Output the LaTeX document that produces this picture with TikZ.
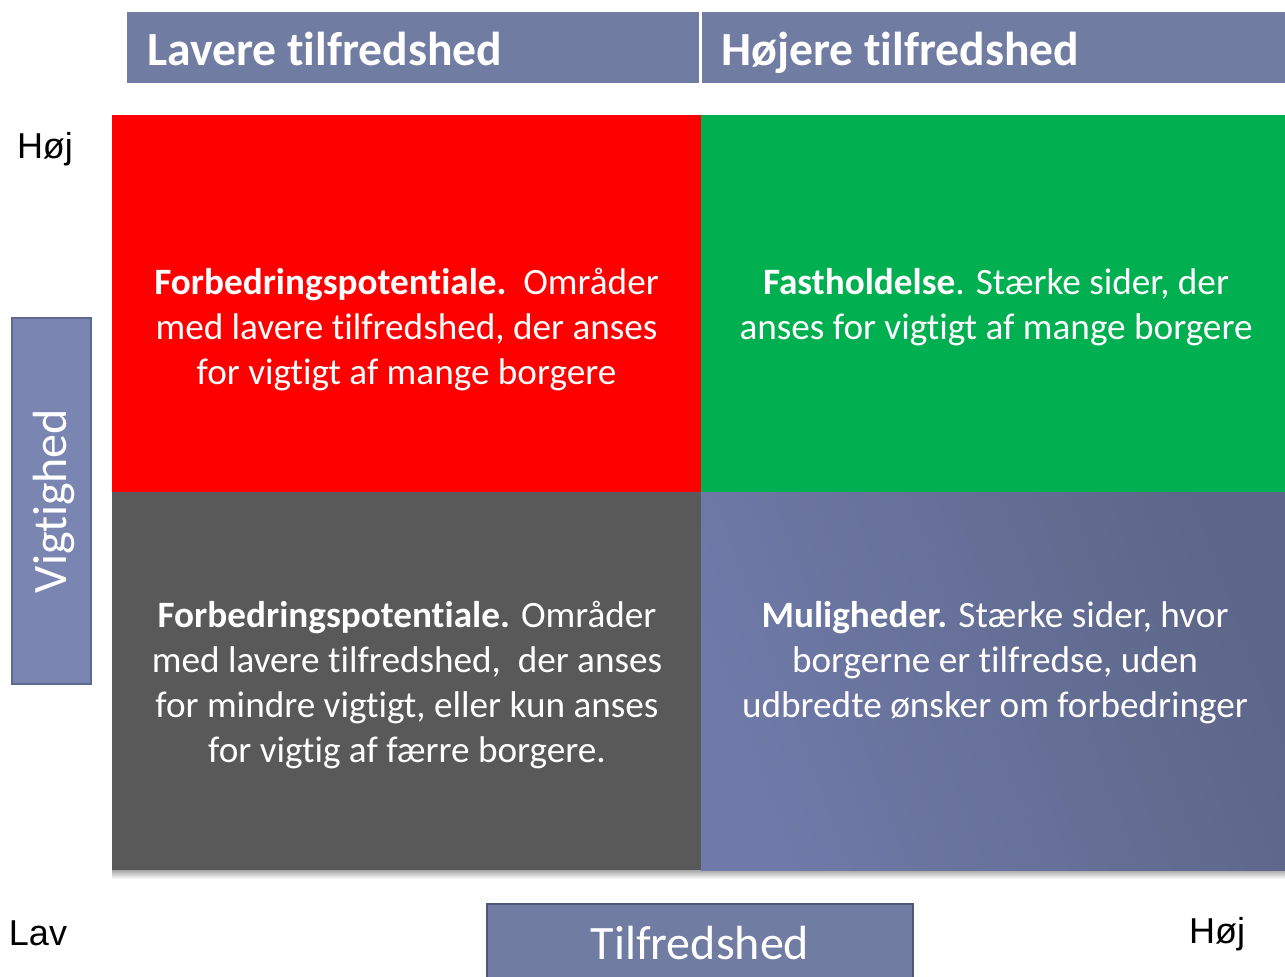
\documentclass[tikz,border=0pt]{standalone}
\usepackage{fontspec}
\setmainfont{Carlito}[Ligatures={NoCommon}]
\newfontfamily\arialfont{Liberation Sans}
\usetikzlibrary{positioning}

\definecolor{hdrblue}{HTML}{717CA2}
\definecolor{barblue}{HTML}{7A85B2}
\definecolor{barline}{HTML}{5E6890}
\definecolor{qred}{HTML}{FF0000}
\definecolor{qgreen}{HTML}{00B050}
\definecolor{qgray}{HTML}{595959}
\definecolor{qblueA}{HTML}{6F7AA8}
\definecolor{qblueB}{HTML}{5D6688}

\begin{document}
\begin{tikzpicture}[x=0.5pt,y=-0.5pt,
    hdr/.style={fill=hdrblue, minimum height=35.5pt, inner sep=0pt},
    hdrtext/.style={text=white, anchor=base west, inner sep=0pt, font=\fontsize{23.8}{28}\selectfont\bfseries},
    quad/.style={minimum height=188.5pt, inner sep=0pt},
    qtext/.style={text=white, align=center, font=\fontsize{18.6}{22.5}\selectfont},
    axisbar/.style={fill=barblue, draw=barline, line width=1pt, text=white},
    axistext/.style={text=white, font=\fontsize{24}{28}\selectfont},
    endlabel/.style={font=\arialfont\fontsize{18}{20}\selectfont}]
    \useasboundingbox (0,0) rectangle (1285,976);
    % header
    \node[hdr, minimum width=286pt] (hleft) at (413,47.5) {};
    \node[hdr, minimum width=291.5pt] (hright) at (993.5,47.5) {};
    \node[hdrtext] (tleft) at (147,65) {Lavere tilfredshed};
    \node[hdrtext] (tright) at (721,65) {Højere tilfredshed};
    % shadow under the matrix
    \shade[top color=black!35, bottom color=white] (112,870) rectangle (1285,879);
    % quadrants
    \node[quad, fill=qred, minimum width=294.5pt] (red) at (406.5,303.5) {};
    \node[quad, fill=qgreen, minimum width=292pt] (green) at (993,303.5) {};
    \node[quad, fill=qgray, minimum width=294.5pt, minimum height=189pt] (gray) at (406.5,681) {};
    \node[quad, minimum width=292pt, minimum height=189pt,
        left color=qblueA, right color=qblueB, shading angle=110] (blue) at (993,681) {};
    \node[qtext] (tred) at (406.5,330) {\textbf{Forbedringspotentiale.}\ \ Områder\\
        med lavere tilfredshed, der anses\\for vigtigt af mange borgere};
    \node[qtext] (tgreen) at (996,307) {\textbf{Fastholdelse}. Stærke sider, der\\
        anses for vigtigt af mange borgere};
    \node[qtext] (tgray) at (407,685) {\textbf{Forbedringspotentiale.} Områder\\
        med lavere tilfredshed,\ \ der anses\\for mindre vigtigt, eller kun anses\\
        for vigtig af færre borgere.};
    \node[qtext] (tblue) at (995,663) {\textbf{Muligheder.} Stærke sider, hvor\\
        borgerne er tilfredse, uden\\udbredte ønsker om forbedringer};
    % axes
    \node[axisbar, minimum width=39.5pt, minimum height=183pt, inner sep=0pt] (vbar) at (51.5,501) {};
    \node[axistext, rotate=90] (vtext) at (54,501) {Vigtighed};
    \node[axisbar, draw=barline!85!black, fill=hdrblue, minimum width=213pt, minimum height=42pt, inner sep=0pt] (hbar) at (700,946) {};
    \node[axistext] (htext) at (700,943) {Tilfredshed};
    \node[endlabel] (high) at (45,149) {Høj};
    \node[endlabel] (low) at (38,933) {Lav};
    \node[endlabel] (right) at (1217,934) {Høj};
\end{tikzpicture}
\end{document}
